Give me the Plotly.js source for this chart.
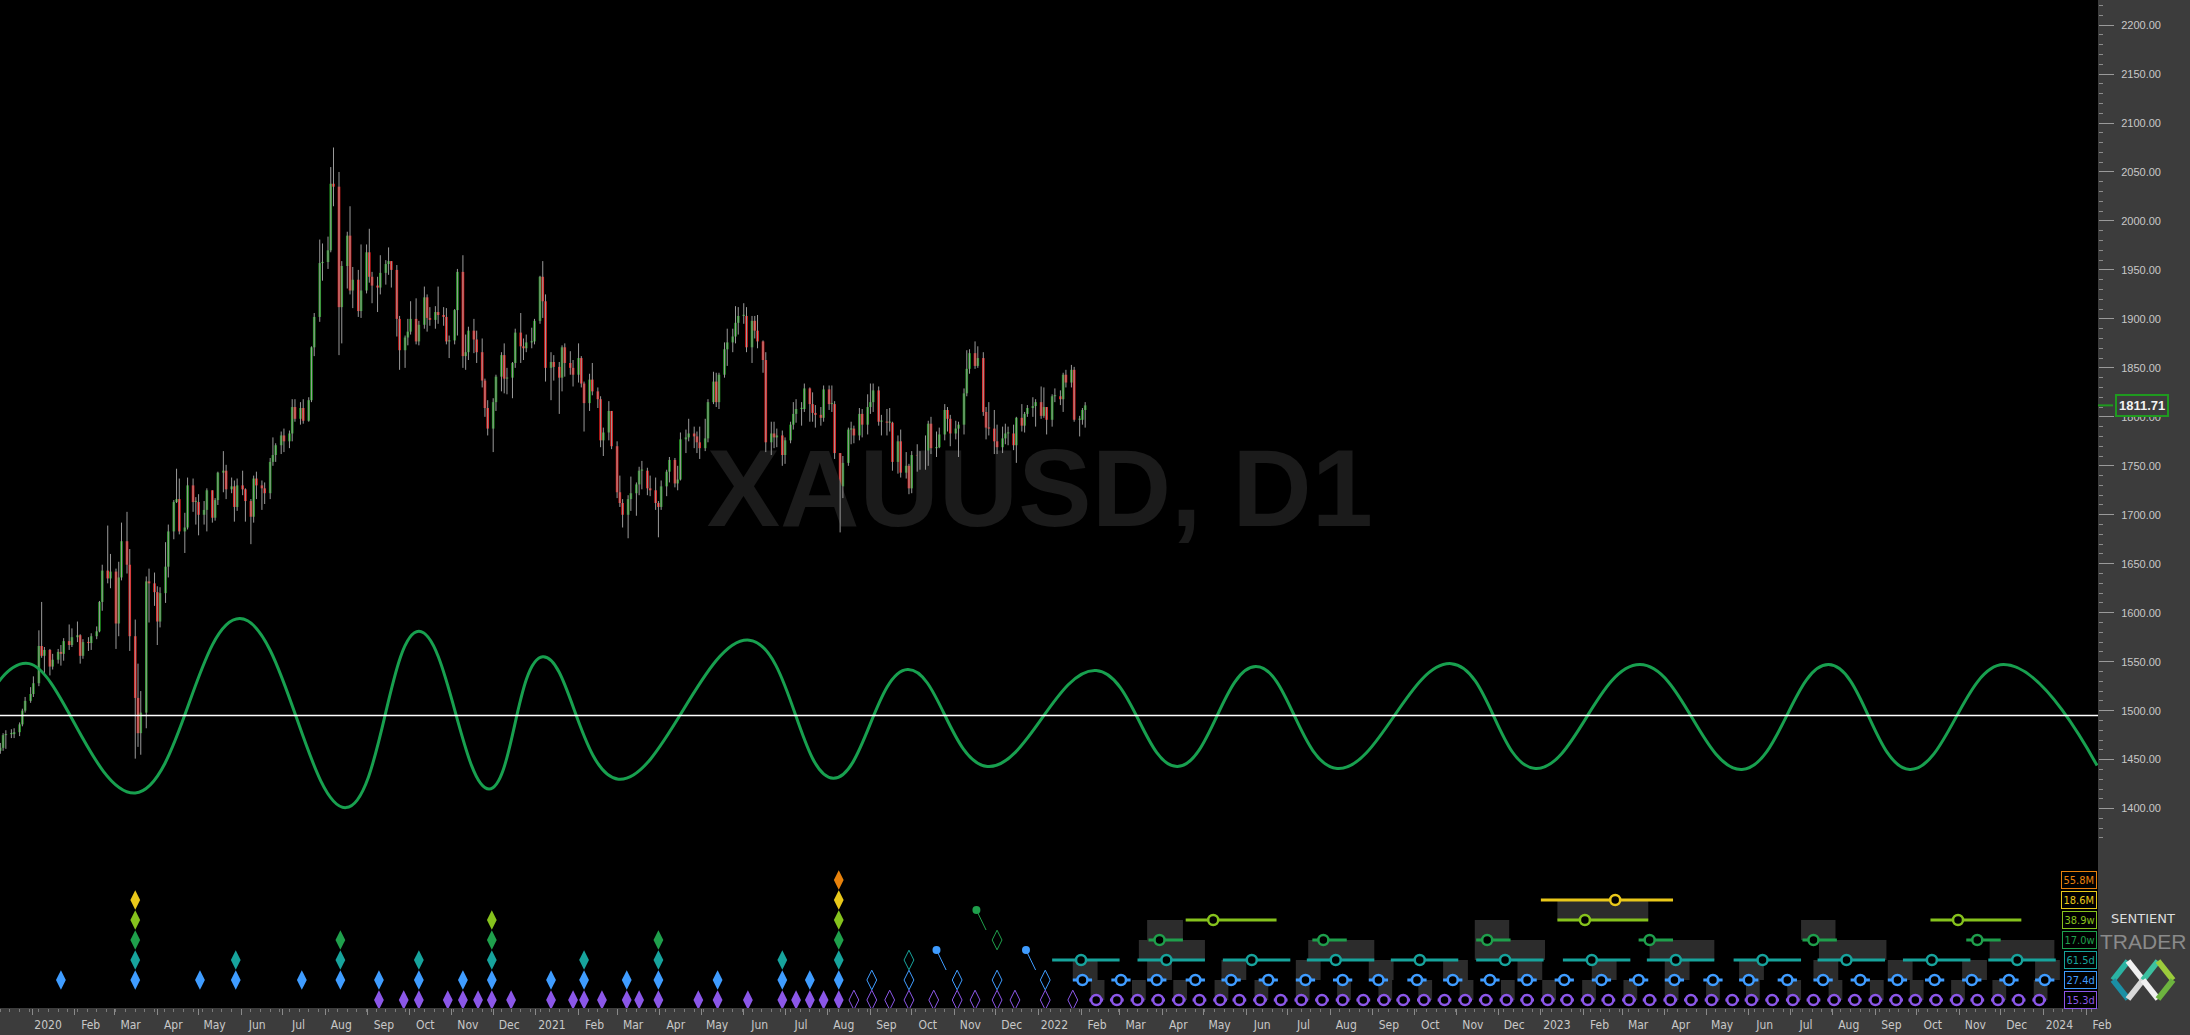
<!DOCTYPE html>
<html><head><meta charset="utf-8">
<script src="https://cdn.plot.ly/plotly-3.0.1.min.js"></script>
<style>html,body{margin:0;padding:0;background:#3c3c3c;overflow:hidden}#chart{width:2190px;height:1035px}</style>
</head><body><div id="chart"></div>
<script>
// ---------------- PRICE DATA (XAUUSD, 2-trading-day candles) ----------------
const firstOpen = 1459;
const closes = [
1462,1475,1476,1476,1478,1486,1500,1510,1517,
1528,1566,1556,1562,1545,1552,1560,1558,1571,1567,1575,
1577,1556,1570,1569,1576,1581,1611,1643,1635,1642,
1589,1636,1673,1649,1576,1513,1477,1498,1632,1630,1621,1591,
1620,1647,1683,1713,1716,1683,1687,1730,1713,1713,
1700,1705,1725,1697,1715,1743,1745,1726,1729,1708,1730,
1726,1714,1698,1737,1730,1727,1722,1754,1761,1771,1781,
1775,1783,1810,1798,1809,1796,1817,1871,1902,1957,1958,
1970,2038,2035,1912,1954,1985,1929,1940,1908,1929,1968,
1943,1934,1932,1947,1956,1959,1950,1900,1868,1881,1887,
1900,1877,1894,1922,1901,1899,1907,1904,1902,1877,1878,
1909,1948,1862,1866,1888,1879,1866,1837,1809,1788,1815,
1841,1863,1839,1840,1855,1886,1872,1870,1876,1877,1898,
1943,1918,1850,1856,1851,1840,1871,1855,1850,1843,
1860,1834,1814,1838,1826,1818,1776,1784,1806,1770,
1723,1712,1700,1716,1722,1731,1745,1745,1727,1725,1712,1708,
1729,1744,1756,1732,1736,1777,1779,1783,1780,1774,1768,
1778,1815,1836,1815,1843,1869,1876,1882,1896,1903,
1903,1871,1898,1888,1877,1858,1774,1783,1779,1781,1761,1776,
1792,1803,1808,1808,1829,1813,1804,1802,1799,1828,
1813,1813,1763,1729,1753,1787,1788,1781,1803,1792,1810,
1815,1827,1795,1795,1794,1794,1754,1775,1743,1750,1727,
1761,1760,1756,1754,1793,1768,1769,1782,1807,1798,1783,
1788,1792,1824,1849,1865,1852,1860,1805,1789,1788,1775,
1769,1778,1783,1783,1771,1799,1791,1803,1809,1811,1815,
1801,1810,1797,1821,1821,1818,1843,1835,1848,1797,1797,1807,1811.71];
const highs = [
1467,1477,1480,1481,1482,1488,1502,1514,1524,
1535,1582,1611,1565,1563,1558,1563,1567,1574,1588,1584,
1591,1578,1573,1575,1579,1586,1612,1649,1689,1660,
1645,1652,1692,1703,1665,1593,1548,1520,1637,1645,1641,1627,
1626,1672,1690,1715,1747,1737,1702,1738,1737,1718,
1721,1714,1727,1722,1717,1744,1765,1751,1738,1735,1737,
1745,1727,1716,1740,1744,1735,1733,1758,1779,1773,1785,
1788,1786,1818,1818,1815,1818,1820,1872,1906,1981,1977,
1984,2055,2075,2050,1959,1989,2015,1953,1950,1976,1976,
1992,1948,1943,1965,1960,1973,1955,1955,1903,1883,1900,
1918,1921,1898,1933,1925,1912,1913,1933,1912,1911,1883,
1910,1951,1965,1884,1892,1900,1888,1880,1839,1817,1819,
1843,1866,1875,1850,1856,1890,1906,1880,1884,1891,1900,
1944,1959,1925,1866,1863,1856,1873,1875,1867,1858,
1875,1862,1836,1844,1855,1830,1821,1789,1816,1805,
1775,1740,1716,1720,1739,1733,1749,1755,1748,1740,1738,1714,
1735,1746,1759,1758,1750,1784,1787,1798,1790,1785,1790,
1798,1818,1846,1845,1845,1876,1890,1890,1913,1912,
1916,1912,1903,1903,1904,1878,1866,1795,1795,1788,1786,1779,
1795,1815,1818,1815,1834,1830,1825,1812,1810,1832,
1832,1832,1816,1762,1760,1789,1795,1791,1809,1808,1823,
1834,1834,1831,1802,1808,1809,1795,1781,1787,1764,1752,
1765,1772,1765,1781,1796,1800,1785,1789,1813,1810,1802,
1796,1795,1829,1868,1869,1877,1872,1866,1810,1815,1807,
1792,1790,1793,1790,1792,1800,1813,1805,1812,1820,1818,
1831,1830,1810,1823,1829,1827,1845,1848,1853,1851,1801,1809,1815];
const lows = [
1456,1459,1461,1472,1472,1474,1484,1498,1508,
1514,1525,1554,1536,1536,1542,1548,1546,1551,1562,1565,
1570,1548,1553,1561,1562,1573,1580,1602,1630,1625,
1563,1576,1633,1640,1561,1451,1463,1455,1482,1590,1607,1567,
1585,1610,1636,1675,1712,1680,1661,1685,1703,1690,
1679,1690,1683,1692,1694,1710,1723,1716,1722,1693,1704,
1720,1693,1670,1692,1716,1705,1711,1716,1750,1754,1762,
1764,1768,1775,1795,1792,1793,1795,1815,1862,1897,1939,
1951,1968,2015,1863,1875,1931,1925,1911,1902,1901,1926,
1937,1916,1907,1925,1935,1945,1932,1882,1848,1850,1873,
1884,1874,1873,1890,1887,1893,1890,1895,1893,1874,1860,
1874,1883,1850,1848,1858,1865,1855,1830,1800,1781,1764,
1806,1826,1824,1823,1819,1850,1855,1858,1866,1870,1874,
1895,1901,1836,1817,1837,1803,1826,1841,1843,1831,
1835,1830,1785,1806,1822,1809,1769,1760,1776,1767,
1717,1708,1687,1676,1704,1699,1720,1726,1720,1719,1705,1677,
1705,1719,1733,1728,1725,1735,1763,1775,1768,1763,1757,
1765,1774,1813,1810,1808,1840,1852,1866,1875,1884,
1895,1866,1855,1880,1870,1845,1764,1761,1768,1769,1750,1752,
1773,1787,1794,1791,1805,1795,1795,1789,1791,1795,
1807,1805,1757,1682,1717,1750,1772,1773,1776,1779,1782,
1803,1805,1791,1781,1781,1785,1745,1742,1738,1737,1721,
1722,1744,1746,1746,1750,1762,1759,1768,1776,1785,1770,
1777,1759,1782,1821,1844,1849,1850,1801,1777,1781,1762,
1762,1763,1772,1771,1766,1753,1785,1784,1800,1800,1790,
1798,1799,1782,1790,1815,1812,1805,1830,1830,1795,1780,1792,1789];
const lastPrice = 1811.71;
const refLine = 1495;

// ---------------- CYCLE WAVE (turning points) ----------------
const waveDates = ['2019-12-08','2019-12-30','2020-03-16','2020-05-31','2020-08-16','2020-10-08','2020-11-28','2021-01-06','2021-03-02','2021-06-05','2021-08-05','2021-09-28','2021-11-25','2022-02-12','2022-04-12','2022-06-08','2022-08-06','2022-10-28','2022-12-28','2023-03-14','2023-05-27','2023-07-29','2023-09-26','2023-12-03','2024-02-09'];
const waveValues = [1530,1548,1416,1594,1401,1581,1420,1555,1430,1572,1431,1542,1443,1541,1443,1545,1441,1548,1441,1547,1440,1547,1440,1547,1444];

// ---------------- CYCLE LEVELS ----------------
const levelNames = ['55.8M','18.6M','38.9w','17.0w','61.5d','27.4d','15.3d'];
// confirmed troughs (filled diamonds)
const past_558M = ['2021-08-09'];
const past_186M = ['2020-03-16','2021-08-09'];
const past_389w = ['2020-03-16','2020-11-30','2021-08-09'];
const past_170w = ['2020-03-16','2020-08-12','2020-11-30','2021-03-31','2021-08-09'];
const past_615d = ['2020-03-16','2020-05-28','2020-08-12','2020-10-08','2020-11-30','2021-02-05','2021-03-31','2021-06-29','2021-08-09'];
const past_274d = ['2020-01-22','2020-03-16','2020-05-02','2020-05-28','2020-07-15','2020-08-12','2020-09-09','2020-10-08','2020-11-09','2020-11-30','2021-01-12','2021-02-05','2021-03-08','2021-03-31','2021-05-13','2021-06-29','2021-07-19','2021-08-09'];
const past_153d = ['2020-09-09','2020-09-27','2020-10-08','2020-10-29','2020-11-09','2020-11-20','2020-11-30','2020-12-14','2021-01-12','2021-01-28','2021-02-05','2021-02-18','2021-03-08','2021-03-17','2021-03-31','2021-04-29','2021-05-13','2021-06-04','2021-06-29','2021-07-09','2021-07-19','2021-07-29','2021-08-09'];
// unconfirmed troughs (open diamonds)
const open_170w = ['2021-12-02'];
const open_615d = ['2021-09-29'];
const open_274d = ['2021-09-02','2021-09-29','2021-11-03','2021-12-02','2022-01-06'];
const open_153d = ['2021-08-20','2021-09-02','2021-09-15','2021-09-29','2021-10-17','2021-11-03','2021-11-16','2021-12-02','2021-12-15','2022-01-06','2022-01-26'];
// peak pointers
const pointerDates = ['2021-10-19','2021-11-17','2021-12-23'];
const pointerEnds = ['2021-10-26','2021-11-24','2021-12-30'];
const pointerLevels = ['27.4d','17.0w','27.4d'];
// projected troughs (circles)
const next_186M = ['2023-02-24'];
const next_389w = ['2022-05-08','2023-02-02','2023-10-31'];
const next_170w = ['2022-03-30','2022-07-27','2022-11-23','2023-03-21','2023-07-18','2023-11-14'];
const next_615d = ['2022-02-01','2022-04-04','2022-06-05','2022-08-05','2022-10-05','2022-12-06','2023-02-07','2023-04-09','2023-06-11','2023-08-11','2023-10-12','2023-12-13'];
const next_274d = ['2022-02-02','2022-03-02','2022-03-28','2022-04-25','2022-05-21','2022-06-17','2022-07-14','2022-08-10','2022-09-05','2022-10-03','2022-10-29','2022-11-25','2022-12-22','2023-01-18','2023-02-14','2023-03-13','2023-04-08','2023-05-06','2023-06-01','2023-06-29','2023-07-25','2023-08-21','2023-09-17','2023-10-14','2023-11-10','2023-12-07','2024-01-02'];
const next_153d = ['2022-02-12','2022-02-27','2022-03-14','2022-03-29','2022-04-13','2022-04-28','2022-05-13','2022-05-27','2022-06-11','2022-06-26','2022-07-11','2022-07-26','2022-08-10','2022-08-25','2022-09-09','2022-09-23','2022-10-08','2022-10-23','2022-11-07','2022-11-22','2022-12-07','2022-12-22','2023-01-06','2023-01-20','2023-02-04','2023-02-19','2023-03-06','2023-03-21','2023-04-05','2023-04-20','2023-05-05','2023-05-20','2023-06-03','2023-06-18','2023-07-03','2023-07-18','2023-08-02','2023-08-17','2023-09-01','2023-09-16','2023-09-30','2023-10-15','2023-10-30','2023-11-14','2023-11-29','2023-12-14','2023-12-29'];
// trough windows (shaded) of nested troughs, drawn in the band just above the level row
const win_389w = [['2023-01-13','2023-03-20']];
const win_170w = [['2022-03-21','2022-04-16'],['2022-11-14','2022-12-09'],['2023-07-09','2023-08-03']];
const win_615d = [['2022-03-15','2022-05-02'],['2022-07-16','2022-09-02'],['2022-11-14','2023-01-04'],['2023-03-21','2023-05-07'],['2023-07-22','2023-09-09'],['2023-11-23','2024-01-09']];

const monthNames = ['Jan','Feb','Mar','Apr','May','Jun','Jul','Aug','Sep','Oct','Nov','Dec'];

// ---------------- STYLE ----------------
const levelColors = ['#e8820c','#e9c81a','#86c21d','#1f9f4c','#17a39c','#3f9cff','#8b57e8'];
const rangeDays = {'18.6M':[54,42],'38.9w':[20,46],'17.0w':[8,17],'61.5d':[21,28],'27.4d':[7,7],'15.3d':[5,5]};
const nestedWindowDays = {'27.4d':[7,11],'15.3d':[4,6]};   // shaded window around every 2nd projected trough
const W = 2190, PLOT_H = 1008, XDOM = 2098/2190;

// ---------------- BUILD ----------------
function ymd(d){return d.toISOString().slice(0,10);}
function candleDates(n){
  const out=[]; let d=new Date(Date.UTC(2019,11,9)); out.push(ymd(d));
  while(out.length<n){ let k=0; while(k<2){ d=new Date(d.getTime()+864e5); const wd=d.getUTCDay(); if(wd!==0&&wd!==6) k++; } out.push(ymd(d)); }
  return out;
}
function shiftDate(s,days){ const t=Date.parse(s+'T00:00:00Z')+days*864e5; return new Date(t).toISOString().slice(0,19).replace('T',' '); }
const lvl = n => levelNames.indexOf(n);
const col = n => levelColors[lvl(n)];

const dates = candleDates(closes.length);
const opens = [firstOpen].concat(closes.slice(0,-1));
const wx=[],wy=[],ux=[],ub=[],uh=[],dx=[],db=[],dh=[];
for(let i=0;i<closes.length;i++){
  const o=opens[i],c=closes[i],hi=Math.max(highs[i],o,c),lo=Math.min(lows[i],o,c);
  wx.push(dates[i],dates[i],null); wy.push(lo,hi,null);
  const b=Math.min(o,c),h=Math.max(Math.abs(c-o),1.2);
  if(c>=o){ux.push(dates[i]);ub.push(b);uh.push(h);} else {dx.push(dates[i]);db.push(b);dh.push(h);}
}
const traces=[];
// watermark
traces.push({type:'scatter',mode:'text',x:['2022-01-02'],y:[1717],text:['XAUUSD, D1'],textposition:'middle center',
  textfont:{family:'Liberation Sans, Arial, sans-serif',size:110,color:'#1b1b1b',weight:'bold'},hoverinfo:'skip'});
traces.push({type:'scatter',mode:'lines',x:wx,y:wy,line:{color:'#9a9a9a',width:1},hoverinfo:'skip'});
traces.push({type:'bar',x:ux,y:uh,base:ub,width:1.9*864e5,marker:{color:'#1f961f',line:{width:0}},hoverinfo:'skip'});
traces.push({type:'bar',x:dx,y:dh,base:db,width:1.9*864e5,marker:{color:'#ec1c1c',line:{width:0}},hoverinfo:'skip'});
traces.push({type:'scatter',mode:'lines',x:waveDates,y:waveValues,line:{color:'#18a04f',width:3,shape:'spline',smoothing:1.2},hoverinfo:'skip'});

// cycle panel helpers
function diamonds(list,name,open){
  if(!list.length) return;
  traces.push({type:'scatter',mode:'markers',x:list,y:list.map(()=>lvl(name)),yaxis:'y2',hoverinfo:'skip',
    marker:{symbol:open?'diamond-tall-open':'diamond-tall',size:14,color:col(name),line:{color:col(name),width:open?1:0}}});
}
[['55.8M',past_558M],['18.6M',past_186M],['38.9w',past_389w],['17.0w',past_170w],['61.5d',past_615d],['27.4d',past_274d],['15.3d',past_153d]].forEach(a=>diamonds(a[1],a[0],false));
[['17.0w',open_170w],['61.5d',open_615d],['27.4d',open_274d],['15.3d',open_153d]].forEach(a=>diamonds(a[1],a[0],true));
// pointers
pointerDates.forEach((d,i)=>{
  const L=lvl(pointerLevels[i]);
  traces.push({type:'scatter',mode:'lines',x:[d,pointerEnds[i]],y:[L-1.5,L-0.5],yaxis:'y2',line:{color:col(pointerLevels[i]),width:1},hoverinfo:'skip'});
  traces.push({type:'scatter',mode:'markers',x:[d],y:[L-1.5],yaxis:'y2',marker:{size:8,color:col(pointerLevels[i])},hoverinfo:'skip'});
});
// shaded windows
const shapes=[];
function rectAbove(x0,x1,L){ shapes.push({type:'rect',xref:'x',yref:'y2',x0:x0,x1:x1,y0:L-1,y1:L,fillcolor:'#2c2c2c',line:{width:0},layer:'below'}); }
[['38.9w',win_389w],['17.0w',win_170w],['61.5d',win_615d]].forEach(a=>a[1].forEach(w=>rectAbove(w[0],w[1],lvl(a[0]))));
[['27.4d',next_274d],['15.3d',next_153d]].forEach(a=>{
  const r=nestedWindowDays[a[0]];
  a[1].forEach((d,i)=>{ if(i%2===0) rectAbove(shiftDate(d,-r[0]),shiftDate(d,r[1]),lvl(a[0])); });
});
// projections
function projections(list,name){
  const L=lvl(name), r=rangeDays[name], lx=[], ly=[];
  list.forEach(d=>{lx.push(shiftDate(d,-r[0]),shiftDate(d,r[1]),null); ly.push(L,L,null);});
  traces.push({type:'scatter',mode:'lines',x:lx,y:ly,yaxis:'y2',line:{color:col(name),width:3},hoverinfo:'skip'});
  traces.push({type:'scatter',mode:'markers',x:list,y:list.map(()=>L),yaxis:'y2',hoverinfo:'skip',
    marker:{symbol:'circle',size:10,color:'#000',line:{color:col(name),width:2.5}}});
}
[['18.6M',next_186M],['38.9w',next_389w],['17.0w',next_170w],['61.5d',next_615d],['27.4d',next_274d],['15.3d',next_153d]].forEach(a=>projections(a[1],a[0]));

// reference line and last price marker
shapes.push({type:'line',xref:'paper',yref:'y',x0:0,x1:XDOM,y0:refLine,y1:refLine,line:{color:'#ffffff',width:1.5}});
shapes.push({type:'line',xref:'paper',yref:'y',x0:XDOM,x1:2113/W,y0:lastPrice,y1:lastPrice,line:{color:'#1f9a1f',width:2}});

// logo (decoration)
const px=(x)=>x/W, py=(y)=>(PLOT_H-y)/PLOT_H;
const logoSegs=[[2113,980,2128,961,'#2bb3a3'],[2113,980,2128,999,'#1b8fa5'],[2128,961,2143,980,'#f0f0f0'],[2128,999,2143,980,'#d8d8d8'],
  [2143,980,2158,961,'#3cc0a0'],[2143,980,2158,999,'#f0f0f0'],[2158,961,2173,980,'#9ccc3c'],[2158,999,2173,980,'#6db33f']];
logoSegs.forEach(s=>shapes.push({type:'line',xref:'paper',yref:'paper',x0:px(s[0]),y0:py(s[1]),x1:px(s[2]),y1:py(s[3]),line:{color:s[4],width:6}}));

const annotations=[];
levelNames.forEach((n,i)=>annotations.push({xref:'paper',yref:'y2',x:2097/W,y:i,xanchor:'right',yanchor:'middle',text:n,showarrow:false,
  font:{family:'Liberation Sans Narrow, DejaVu Sans Condensed, Liberation Sans, sans-serif',size:11,color:levelColors[i]},
  bgcolor:'#000',bordercolor:levelColors[i],borderwidth:1,borderpad:1.5}));
annotations.push({xref:'paper',yref:'y',x:2142/W,y:lastPrice,text:'1811.71',showarrow:false,xanchor:'center',yanchor:'middle',
  font:{family:'Liberation Sans, Arial, sans-serif',size:13,color:'#f2f2f2',weight:'bold'},bgcolor:'#3c3c3c',bordercolor:'#1f9a1f',borderwidth:2,borderpad:2});
annotations.push({xref:'paper',yref:'paper',x:2143/W,y:py(918),xanchor:'center',yanchor:'middle',text:'SENTIENT',showarrow:false,font:{family:'DejaVu Sans, sans-serif',size:13,color:'#dedede'}});
annotations.push({xref:'paper',yref:'paper',x:2143/W,y:py(941),xanchor:'center',yanchor:'middle',text:'TRADER',showarrow:false,font:{family:'Liberation Sans, sans-serif',size:21,color:'#8a8a8a'}});

// axis ticks
const tickVals=[],tickText=[];
for(let y=2020;y<=2024;y++) for(let m=0;m<12;m++){ if(y===2024&&m>1) break; tickVals.push(y+'-'+String(m+1).padStart(2,'0')+'-01'); tickText.push(m===0?String(y):monthNames[m]); }
const priceTicks=[]; for(let p=1400;p<=2200;p+=50) priceTicks.push(p);
const priceMinor=[]; for(let p=1370;p<=2220;p+=10) if(p%50) priceMinor.push(p);

const layout={
  width:2190,height:1035,margin:{l:0,r:0,t:0,b:27},paper_bgcolor:'#3c3c3c',plot_bgcolor:'#000000',
  showlegend:false,barmode:'overlay',font:{family:'Liberation Sans, Arial, sans-serif'},
  xaxis:{type:'date',domain:[0,XDOM],range:['2019-12-08 18:00','2024-02-09 16:30'],tickmode:'array',tickvals:tickVals,ticktext:tickText,
    ticks:'outside',ticklen:6,tickcolor:'#8a8a8a',tickwidth:1,ticklabelshift:16,showgrid:false,zeroline:false,showline:false,fixedrange:true,
    tickfont:{family:'Liberation Sans Narrow, DejaVu Sans Condensed, Liberation Sans, sans-serif',size:12,color:'#c8c8c8'},
    minor:{ticks:'outside',ticklen:3,dtick:7*864e5,tick0:'2019-12-02',tickcolor:'#7a7a7a',showgrid:false}},
  yaxis:{side:'right',range:[1196.4,2225.6],tickmode:'array',tickvals:priceTicks,tickformat:'.2f',ticks:'outside',ticklen:15,tickcolor:'#9a9a9a',
    tickfont:{family:'Liberation Sans, Arial, sans-serif',size:11,color:'#c8c8c8'},ticklabelstandoff:5,showgrid:false,zeroline:false,showline:false,fixedrange:true,
    minor:{tickmode:'array',tickvals:priceMinor,ticks:'outside',ticklen:4,tickcolor:'#8a8a8a',showgrid:false}},
  yaxis2:{overlaying:'y',range:[6.4,-44],visible:false,fixedrange:true},
  shapes:shapes,annotations:annotations
};
Plotly.newPlot('chart',traces,layout,{staticPlot:true,displayModeBar:false});
</script></body></html>
